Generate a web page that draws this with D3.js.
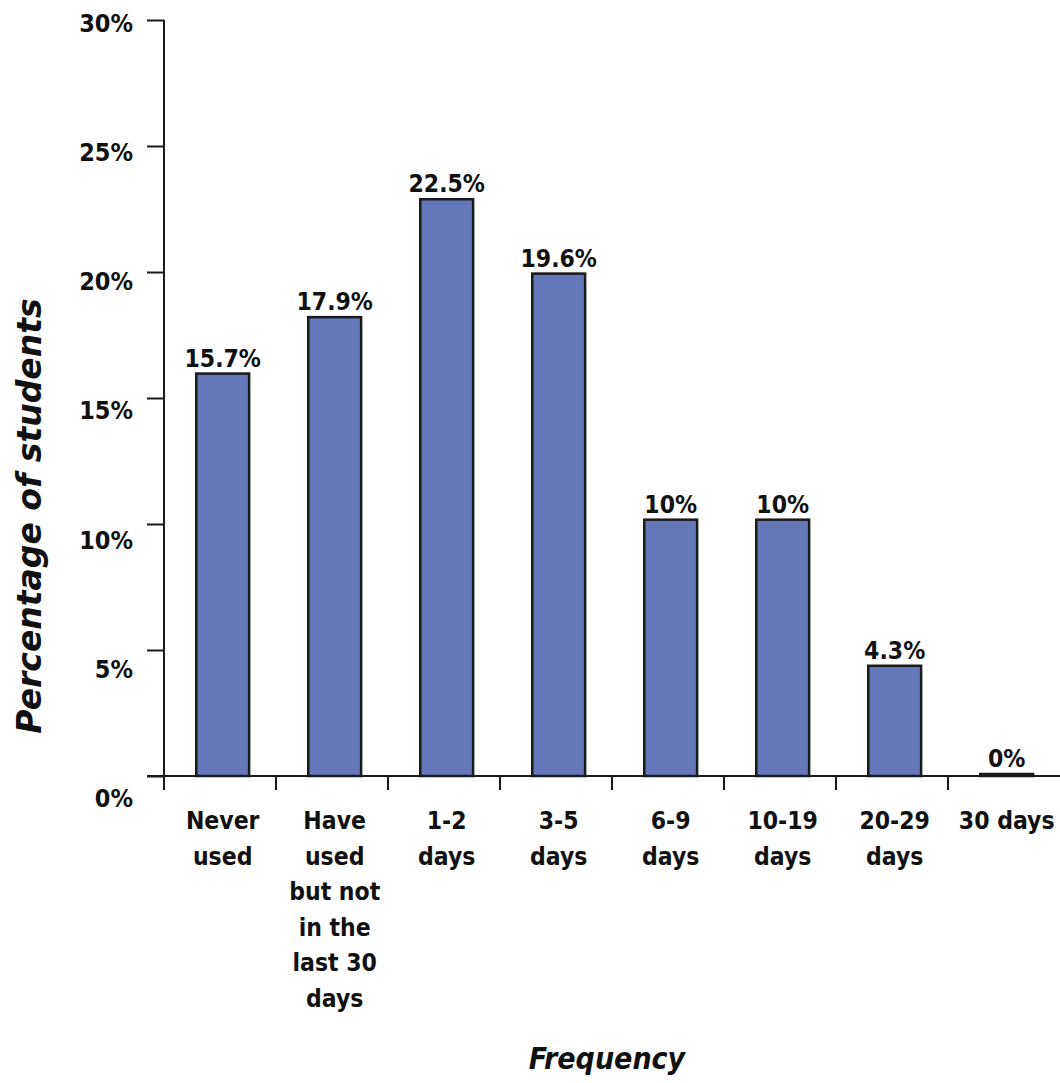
<!DOCTYPE html>
<html>
<head>
<meta charset="utf-8">
<script src="https://cdn.jsdelivr.net/npm/d3@7"></script>
<style>
  html, body { margin: 0; padding: 0; background: #fff; }
  svg { display: block; }
  text { font-family: "DejaVu Sans Condensed", "DejaVu Sans", Verdana, sans-serif; font-stretch: condensed; font-weight: bold; fill: #111; }
  text.title-y { font-family: "DejaVu Sans", Verdana, sans-serif; font-stretch: normal; }
</style>
</head>
<body>
<svg id="chart" width="1060" height="1083"></svg>
<script>
// Frequency of use among students
const categories = [
  ["Never", "used"],
  ["Have", "used", "but not", "in the", "last 30", "days"],
  ["1-2", "days"],
  ["3-5", "days"],
  ["6-9", "days"],
  ["10-19", "days"],
  ["20-29", "days"],
  ["30 days"]
];
const values = [15.7, 17.9, 22.5, 19.6, 10, 10, 4.3, 0];
const valueLabels = ["15.7%", "17.9%", "22.5%", "19.6%", "10%", "10%", "4.3%", "0%"];
const yTicks = [0, 5, 10, 15, 20, 25, 30];
const yTickLabels = ["0%", "5%", "10%", "15%", "20%", "25%", "30%"];

const svg = d3.select("#chart");
const keys = categories.map((c, i) => i);

const x = d3.scaleBand().domain(keys).range([164, 1060]).padding(0);
const yBar = d3.scaleLinear().domain([0, 30]).range([776, 7]);
const yAxisScale = d3.scaleLinear().domain([0, 30]).range([776, 20]);
const yLabelScale = d3.scaleLinear().domain([0, 30]).range([798, 22.5]);

const ink = "#1a1a1a";

// y axis line and tick marks
const yAxis = d3.axisLeft(yAxisScale).tickValues(yTicks).tickSize(17).tickFormat("");
const gy = svg.append("g").attr("transform", "translate(164,0)").call(yAxis);
gy.select(".domain").remove();
gy.selectAll(".tick line").attr("stroke", ink).attr("stroke-width", 2);
svg.append("line").attr("x1", 164).attr("x2", 164).attr("y1", 20).attr("y2", 790)
  .attr("stroke", ink).attr("stroke-width", 2);

// y tick labels
svg.append("g").selectAll("text").data(yTicks).join("text")
  .attr("x", 133).attr("y", d => yLabelScale(d))
  .attr("dy", "0.36em")
  .attr("text-anchor", "end")
  .attr("font-size", 25)
  .text((d, i) => yTickLabels[i]);

// x axis line and boundary ticks
svg.append("line").attr("x1", 147).attr("x2", 1060).attr("y1", 776).attr("y2", 776)
  .attr("stroke", ink).attr("stroke-width", 2);
svg.append("g").selectAll("line").data(keys.slice(1)).join("line")
  .attr("x1", d => x(d)).attr("x2", d => x(d))
  .attr("y1", 776).attr("y2", 790)
  .attr("stroke", ink).attr("stroke-width", 2);

// bars (a zero value still shows as a thin outlined sliver)
const bx0 = d => x(d) + x.step() * 0.288;
const bw = x.step() * 0.472;
svg.append("g").selectAll("rect").data(keys).join("rect")
  .attr("x", i => bx0(i))
  .attr("width", bw)
  .attr("y", i => Math.min(yBar(values[i]), yBar(0) - 2))
  .attr("height", i => Math.max(yBar(0) - yBar(values[i]), 2))
  .attr("fill", "#6377b9")
  .attr("stroke", ink)
  .attr("stroke-width", 2.5);

// value labels
svg.append("g").selectAll("text").data(keys).join("text")
  .attr("x", i => bx0(i) + bw / 2)
  .attr("y", i => Math.min(yBar(values[i]), yBar(0) - 2) - 7)
  .attr("text-anchor", "middle")
  .attr("font-size", 24.5)
  .text(i => valueLabels[i]);

// category labels
const catG = svg.append("g").selectAll("text").data(keys).join("text")
  .attr("text-anchor", "middle")
  .attr("font-size", 24.5);
catG.selectAll("tspan").data(i => categories[i].map(line => ({ line, i }))).join("tspan")
  .attr("x", d => bx0(d.i) + bw / 2)
  .attr("y", (d, j) => 829 + j * 35.5)
  .text(d => d.line);

// axis titles
svg.append("text")
  .attr("class", "title-y")
  .attr("transform", "translate(41,516) rotate(-90)")
  .attr("text-anchor", "middle")
  .attr("font-size", 33)
  .attr("font-style", "italic")
  .text("Percentage of students");

svg.append("text")
  .attr("x", 607).attr("y", 1069)
  .attr("text-anchor", "middle")
  .attr("font-size", 30)
  .attr("font-style", "italic")
  .text("Frequency");
</script>
</body>
</html>
